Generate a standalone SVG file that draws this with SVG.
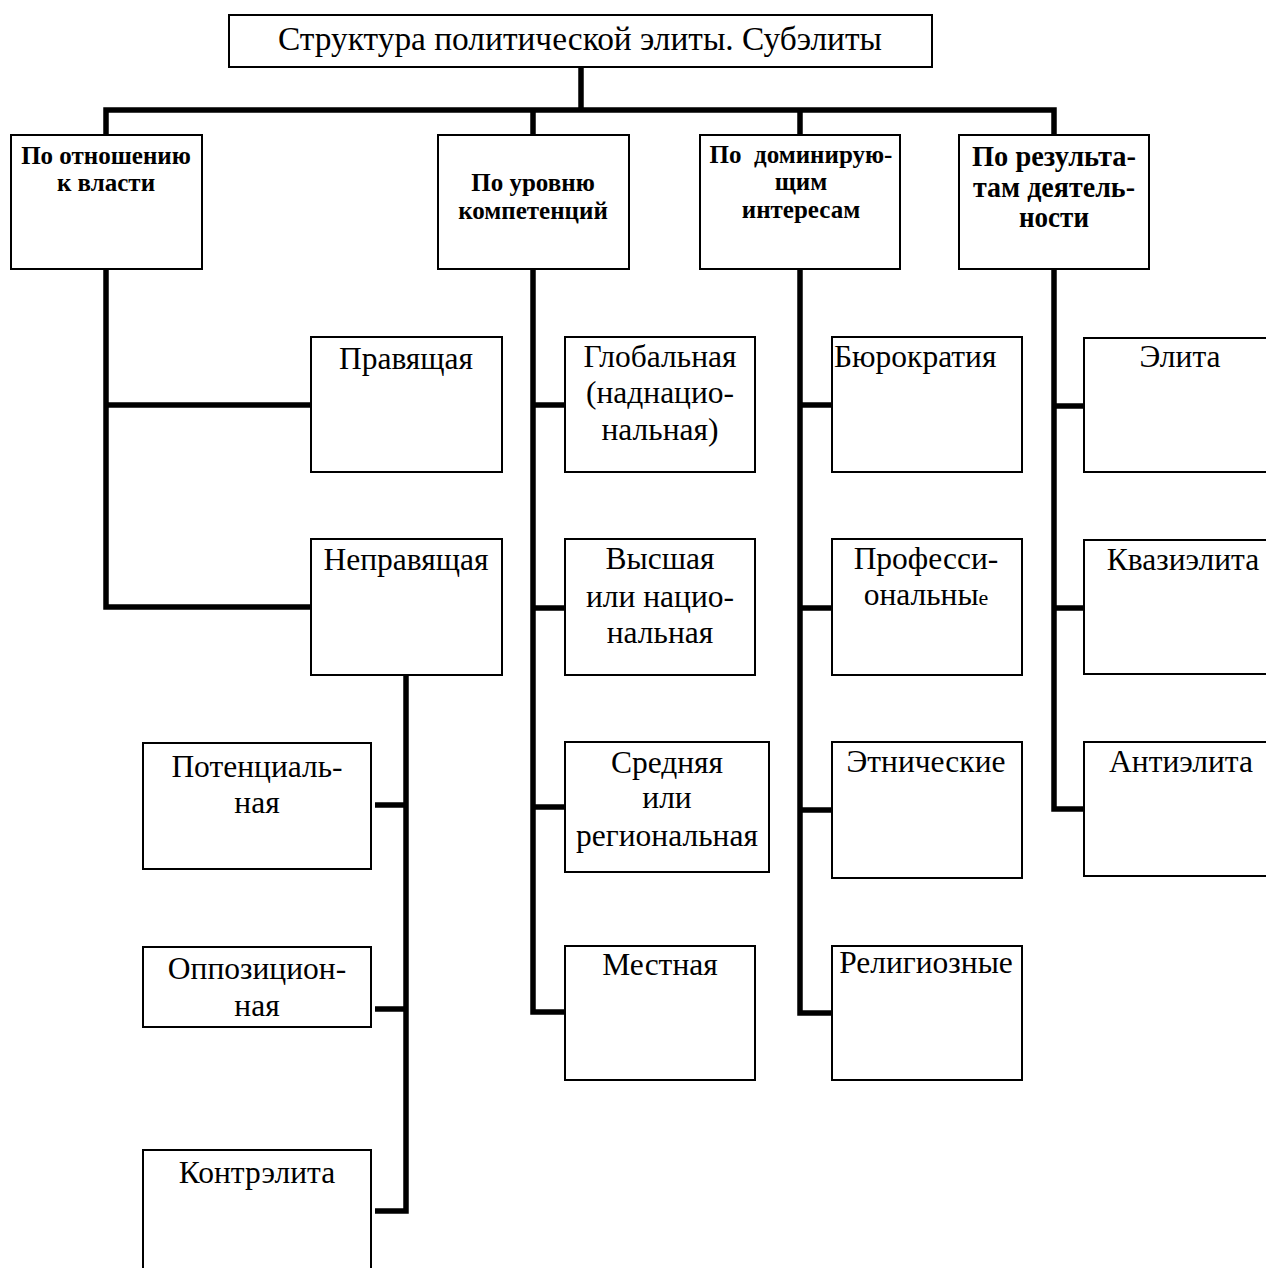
<svg xmlns="http://www.w3.org/2000/svg" width="1266" height="1268" viewBox="0 0 1266 1268">
<style>
.box{fill:#fff;stroke:#000;stroke-width:2}
.conn{fill:none;stroke:#000;stroke-width:5.5;stroke-linejoin:miter}
.t{font-family:"Liberation Serif","Times New Roman",serif;font-size:31.5px;fill:#000;text-anchor:middle}
.h{font-family:"Liberation Serif","Times New Roman",serif;font-size:25px;font-weight:bold;fill:#000;text-anchor:middle}
.h4{font-size:30px}
</style>
<rect width="1266" height="1268" fill="#fff"/>
<g id="connectors">
<path class="conn" d="M581,67 V110"/>
<path class="conn" d="M106,137 V110 H1054 V137"/>
<path class="conn" d="M533,110 V137 M800,110 V137"/>
<path class="conn" d="M106,268 V607 H311 M106,405 H311"/>
<path class="conn" d="M406,674 V1211 H375 M406,805 H375 M406,1009 H375"/>
<path class="conn" d="M533,268 V1012 H565 M533,405 H565 M533,608 H565 M533,807 H565"/>
<path class="conn" d="M800,268 V1013 H832 M800,405 H832 M800,608 H832 M800,810 H832"/>
<path class="conn" d="M1054,268 V809 H1084 M1054,406 H1084 M1054,608 H1084"/>
</g>
<g id="title"><rect class="box" x="229" y="15" width="703" height="52"/><text class="t" x="580" y="50" style="font-size:33.4px">Структура политической элиты. Субэлиты</text></g>
<g id="h1"><rect class="box" x="11" y="135" width="191" height="134"/><text class="h" x="106" y="164">По отношению</text><text class="h" x="106" y="191">к власти</text></g>
<g id="h2"><rect class="box" x="438" y="135" width="191" height="134"/><text class="h" x="533" y="191">По уровню</text><text class="h" x="533" y="219">компетенций</text></g>
<g id="h3"><rect class="box" x="700" y="135" width="200" height="134"/><text class="h" x="801" y="163" xml:space="preserve">По  доминирую-</text><text class="h" x="801" y="190">щим</text><text class="h" x="801" y="218">интересам</text></g>
<g id="h4"><rect class="box" x="959" y="135" width="190" height="134"/><text class="h h4" x="1054" y="166" textLength="164" lengthAdjust="spacingAndGlyphs">По результа-</text><text class="h h4" x="1054" y="197" textLength="162" lengthAdjust="spacingAndGlyphs">там деятель-</text><text class="h h4" x="1054" y="227" textLength="70" lengthAdjust="spacingAndGlyphs">ности</text></g>
<g id="n-pravyashchaya"><rect class="box" x="311" y="337" width="191" height="135"/><text class="t" x="406" y="369">Правящая</text></g>
<g id="n-nepravyashchaya"><rect class="box" x="311" y="539" width="191" height="136"/><text class="t" x="406" y="570">Неправящая</text></g>
<g id="n-potencialnaya"><rect class="box" x="143" y="743" width="228" height="126"/><text class="t" x="257" y="777">Потенциаль-</text><text class="t" x="257" y="813">ная</text></g>
<g id="n-oppozicionnaya"><rect class="box" x="143" y="947" width="228" height="80"/><text class="t" x="257" y="979">Оппозицион-</text><text class="t" x="257" y="1016">ная</text></g>
<g id="n-kontrelita"><rect class="box" x="143" y="1150" width="228" height="130"/><text class="t" x="257" y="1183">Контрэлита</text></g>
<g id="n-globalnaya"><rect class="box" x="565" y="337" width="190" height="135"/><text class="t" x="660" y="367">Глобальная</text><text class="t" x="660" y="403">(наднацио-</text><text class="t" x="660" y="440">нальная)</text></g>
<g id="n-vysshaya"><rect class="box" x="565" y="539" width="190" height="136"/><text class="t" x="660" y="569">Высшая</text><text class="t" x="660" y="607">или нацио-</text><text class="t" x="660" y="643">нальная</text></g>
<g id="n-srednyaya"><rect class="box" x="565" y="742" width="204" height="130"/><text class="t" x="667" y="773">Средняя</text><text class="t" x="667" y="808">или</text><text class="t" x="667" y="846">региональная</text></g>
<g id="n-mestnaya"><rect class="box" x="565" y="946" width="190" height="134"/><text class="t" x="660" y="975">Местная</text></g>
<g id="n-byurokratiya"><rect class="box" x="832" y="337" width="190" height="135"/><text class="t" x="834" y="367" style="text-anchor:start">Бюрократия</text></g>
<g id="n-professionalnye"><rect class="box" x="832" y="539" width="190" height="136"/><text class="t" x="926" y="569">Професси-</text><text class="t" x="926" y="605">ональны<tspan style="font-size:22px">е</tspan></text></g>
<g id="n-etnicheskie"><rect class="box" x="832" y="742" width="190" height="136"/><text class="t" x="926" y="772">Этнические</text></g>
<g id="n-religioznye"><rect class="box" x="832" y="946" width="190" height="134"/><text class="t" x="926" y="973">Религиозные</text></g>
<g id="n-elita"><rect class="box" x="1084" y="338" width="195" height="134"/><text class="t" x="1180" y="367">Элита</text></g>
<g id="n-kvazielita"><rect class="box" x="1084" y="540" width="195" height="134"/><text class="t" x="1183" y="570">Квазиэлита</text></g>
<g id="n-antielita"><rect class="box" x="1084" y="742" width="195" height="134"/><text class="t" x="1181" y="772">Антиэлита</text></g>
</svg>
